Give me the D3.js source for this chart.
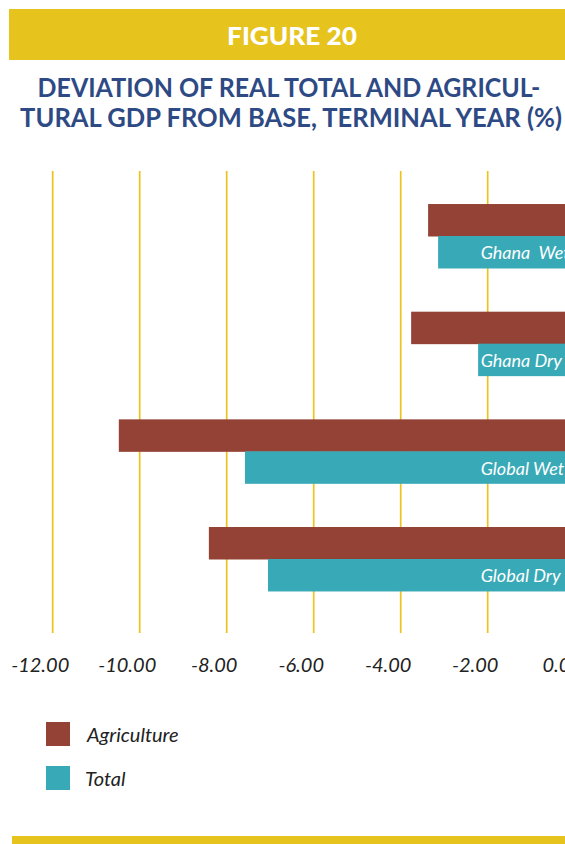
<!DOCTYPE html>
<html>
<head>
<meta charset="utf-8">
<script src="https://cdn.jsdelivr.net/npm/d3@7"></script>
<style>
  html, body { margin: 0; padding: 0; background: #fff; }
  svg { display: block; }
</style>
</head>
<body>
<svg id="chart" width="565" height="844"></svg>
<script>
const categories = ["Ghana  Wet", "Ghana Dry", "Global Wet", "Global Dry"];
const seriesNames = ["Agriculture", "Total"];
const agriculture = [-3.37, -3.76, -10.48, -8.41];
const total = [-3.14, -2.22, -7.58, -7.05];
const tickValues = [-12, -10, -8, -6, -4, -2, 0];
const tickLabels = ["-12.00", "-10.00", "-8.00", "-6.00", "-4.00", "-2.00", "0.00"];
const colors = ["#934235", "#38a9b6"];

const svg = d3.select("#chart");
const W = 565;

// Fit a text horizontally to a target width around a centre, by scaling
function fitText(sel, cx, y, w) {
  sel.attr("x", 0).attr("y", 0).attr("text-anchor", "middle");
  const nat = sel.node().getComputedTextLength();
  sel.attr("transform", `translate(${cx},${y}) scale(${w / nat},1)`);
}

// Header band
svg.append("rect").attr("x", 9).attr("y", 9).attr("width", W - 9).attr("height", 51).attr("fill", "#e7c31e");
const fig = svg.append("text")
  .attr("font-family", "Lato").attr("font-weight", 900).attr("font-size", 24)
  .attr("fill", "#fff").text("FIGURE 20");
fitText(fig, 292, 45, 130);

// Title
const titleLines = [
  {t: "DEVIATION OF REAL TOTAL AND AGRICUL-", cx: 289, y: 96.5, w: 503},
  {t: "TURAL GDP FROM BASE, TERMINAL YEAR (%)", cx: 291, y: 127, w: 542}
];
svg.selectAll("text.title").data(titleLines).join("text").attr("class", "title")
  .attr("font-family", "Lato").attr("font-weight", 700).attr("font-size", 27)
  .attr("fill", "#2e4a85")
  .text(d => d.t)
  .each(function(d) { fitText(d3.select(this), d.cx, d.y, d.w); });

// Scales
const x = d3.scaleLinear().domain([-12, 0]).range([52.7, 574.7]);
const y = d3.scaleBand().domain(categories).range([182.5, 612.5]).paddingInner(0.406).paddingOuter(0.2);
const ys = d3.scaleBand().domain(seriesNames).range([0, y.bandwidth()]);

// Gridlines
svg.append("g").selectAll("line").data(tickValues).join("line")
  .attr("x1", d => x(d)).attr("x2", d => x(d))
  .attr("y1", 171).attr("y2", 633)
  .attr("stroke", "#ecc21f").attr("stroke-width", 1.7);

// Bars
const rows = categories.map((c, i) => ({cat: c, vals: [agriculture[i], total[i]]}));
const groups = svg.append("g").selectAll("g").data(rows).join("g")
  .attr("transform", d => `translate(0,${y(d.cat)})`);
groups.selectAll("rect").data(d => d.vals.map((v, j) => ({v, s: seriesNames[j], j})))
  .join("rect")
  .attr("x", d => x(Math.min(d.v, 0)))
  .attr("y", d => ys(d.s))
  .attr("width", d => Math.abs(x(d.v) - x(0)))
  .attr("height", ys.bandwidth() + 0.5)
  .attr("fill", d => colors[d.j]);

// Category labels inside Total bars
groups.append("text")
  .attr("x", x(0) - 94)
  .attr("y", ys("Total") + ys.bandwidth() / 2 + 7.5)
  .attr("font-family", "Lato").attr("font-style", "italic").attr("font-size", 18)
  .attr("fill", "#fff").style("white-space", "pre")
  .text(d => d.cat);

// Axis labels
const axis = d3.axisBottom(x).tickValues(tickValues).tickFormat((d, i) => tickLabels[i]).tickSize(0);
const ag = svg.append("g").attr("transform", "translate(0,652)").call(axis);
ag.select(".domain").remove();
ag.selectAll("text")
  .attr("dx", -13).attr("dy", 0).attr("y", 20)
  .attr("font-family", "Lato").attr("font-style", "italic").attr("font-size", 20)
  .attr("fill", "#222");

// Legend
const legend = svg.append("g").selectAll("g").data(seriesNames).join("g")
  .attr("transform", (d, i) => `translate(46,${722 + i * 44})`);
legend.append("rect").attr("width", 24).attr("height", 24).attr("fill", (d, i) => colors[i]);
legend.append("text").attr("x", (d, i) => i === 0 ? 41 : 39).attr("y", 19.5)
  .attr("font-family", "Lato").attr("font-style", "italic").attr("font-size", 20)
  .attr("fill", "#222").text(d => d);

// Bottom band
svg.append("rect").attr("x", 12).attr("y", 836).attr("width", W - 12).attr("height", 8).attr("fill", "#e7c31e");
</script>
</body>
</html>
